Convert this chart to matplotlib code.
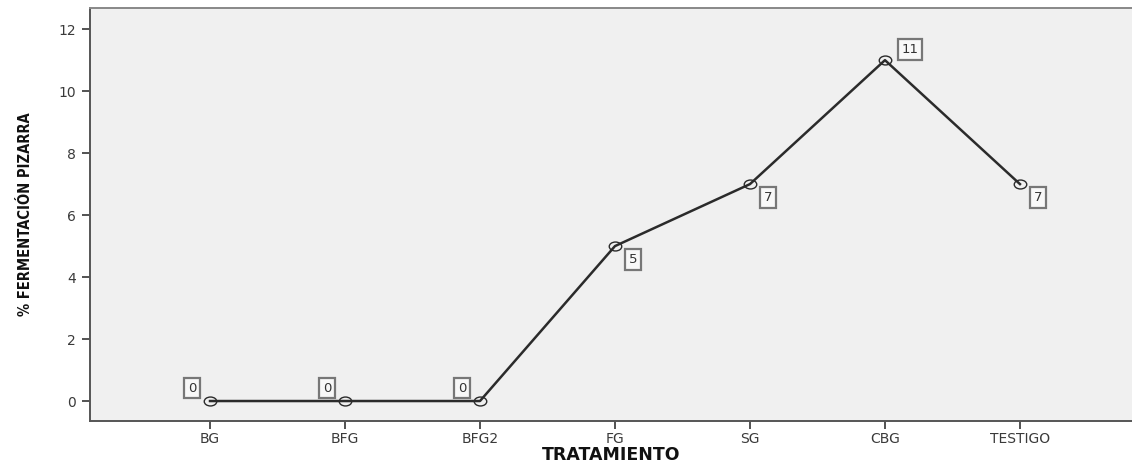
import matplotlib
matplotlib.use("Agg")
import matplotlib.pyplot as plt
from matplotlib import font_manager
from matplotlib.path import Path
from matplotlib.transforms import Affine2D

# Data
tratamientos = ["BG", "BFG", "BFG2", "FG", "SG", "CBG", "TESTIGO"]
fermentacion = [0, 0, 0, 5, 7, 11, 7]
# where each boxed value label sits relative to its point (pixels)
label_offsets = [(-18, 13), (-18, 13), (-18, 13), (18, -13), (18, -13), (25, 11), (18, -13)]

yticks = [0, 2, 4, 6, 8, 10, 12]

plt.rcParams["font.family"] = ["DejaVu Sans"]

# look for a condensed bold face for the y label (reference uses a narrow font)
condensed = None
for f in font_manager.fontManager.ttflist:
    if "condensed" in str(f.stretch).lower() or "narrow" in f.name.lower():
        condensed = f
        if "bold" in str(f.weight).lower() or f.weight in (600, 700, 800):
            break

fig = plt.figure(figsize=(11.32, 4.65), dpi=100)
ax = fig.add_axes([0.0795, 0.0946, 0.9205, 0.888])
ax.set_facecolor("#f0f0f0")

# flattened circle marker like the reference
ellipse = Path.unit_circle().transformed(Affine2D().scale(1.4, 1.0))

x = list(range(len(tratamientos)))
ax.plot(x, fermentacion, color="#2b2b2b", linewidth=1.8, marker=ellipse,
        markersize=9, markerfacecolor="none", markeredgecolor="#2b2b2b",
        markeredgewidth=1.0, zorder=3)

for xi, yi, (dx, dy) in zip(x, fermentacion, label_offsets):
    ax.annotate(str(yi), (xi, yi), xytext=(dx, dy), textcoords="offset pixels",
                ha="center", va="center", fontsize=9.5, color="#333333",
                bbox=dict(boxstyle="square,pad=0.3", facecolor="#f8f8f8",
                          edgecolor="#777777", linewidth=1.6),
                zorder=4)

ax.set_xlim(-0.889, 6.83)
ax.set_ylim(-0.645, 12.68)
ax.set_xticks(x)
ax.set_xticklabels(tratamientos)
ax.set_yticks(yticks)

ax.tick_params(axis="both", direction="out", length=6, width=1.3,
               color="#444444", labelcolor="#3a3a3a", labelsize=10)
ax.tick_params(axis="y", pad=4)
ax.tick_params(axis="x", pad=2)

for side in ["left", "bottom"]:
    ax.spines[side].set_color("#555555")
    ax.spines[side].set_linewidth(1.4)
ax.spines["top"].set_color("#888888")
ax.spines["top"].set_linewidth(1.4)
ax.spines["right"].set_visible(False)

ax.set_xlabel("TRATAMIENTO", fontsize=12.5, fontweight="bold", color="#111111", labelpad=0)

if condensed is not None:
    ax.set_ylabel("% FERMENTACIÓN PIZARRA",
                  fontproperties=font_manager.FontProperties(fname=condensed.fname, size=10.5),
                  color="#111111", labelpad=18)
else:
    ax.set_ylabel("% FERMENTACIÓN PIZARRA", fontsize=10.5, fontweight="bold",
                  color="#111111", family=["Liberation Sans", "DejaVu Sans"], labelpad=18)

fig.savefig("out.png", dpi=100)
